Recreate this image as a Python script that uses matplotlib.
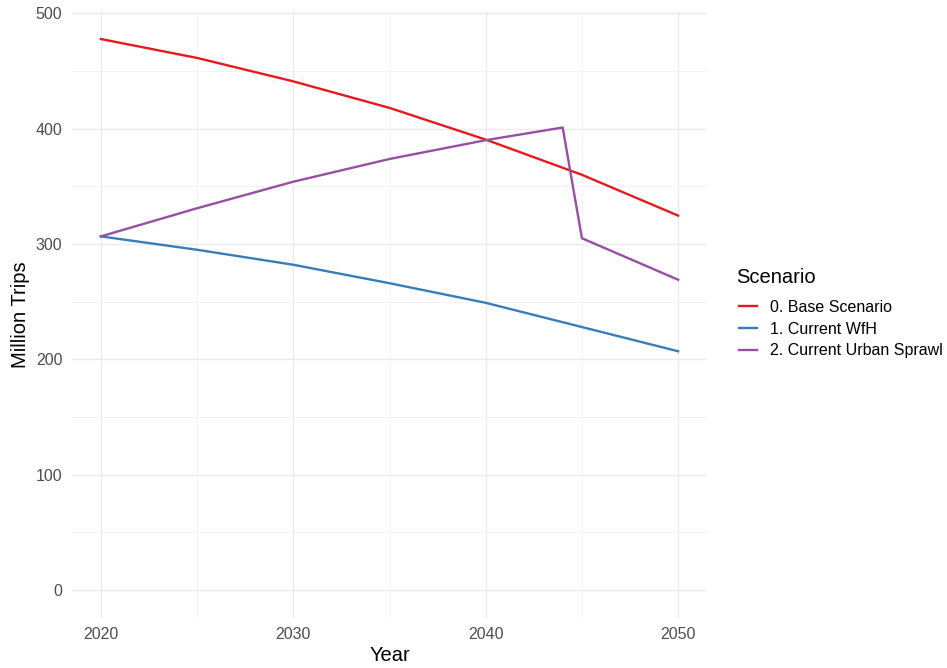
import matplotlib.pyplot as plt
import numpy as np

plt.rcParams['font.family'] = ['Liberation Sans', 'DejaVu Sans']

# data
base_years = [2020, 2025, 2030, 2035, 2040, 2045, 2050]
base_trips = [477.7, 461.3, 441.0, 418.0, 390.5, 360.0, 324.6]

wfh_years = [2020, 2025, 2030, 2035, 2040, 2045, 2050]
wfh_trips = [306.6, 295.0, 282.0, 266.0, 249.0, 228.0, 207.0]

sprawl_years = [2020, 2025, 2030, 2035, 2040, 2044, 2045, 2050]
sprawl_trips = [306.6, 331.0, 354.0, 373.7, 390.0, 401.0, 305.0, 269.0]

labels = ['0. Base Scenario', '1. Current WfH', '2. Current Urban Sprawl']
colors = ['#E41A1C', '#377EB8', '#984EA3']

W, H = 947, 668
fig = plt.figure(figsize=(W / 100, H / 100), dpi=100)
ax = fig.add_axes([72 / W, 1 - 617.6 / H, 635 / W, (617.6 - 11) / H])

series = [(base_years, base_trips), (wfh_years, wfh_trips), (sprawl_years, sprawl_trips)]
for (x, y), lab, c in zip(series, labels, colors):
    ax.plot(x, y, color=c, lw=1.7, label=lab, solid_joinstyle='round')

ax.set_xlim(2018.5, 2051.5)
ax.set_ylim(-23.9, 502)
ax.set_xticks([2020, 2030, 2040, 2050])
ax.set_xticks([2025, 2035, 2045], minor=True)
ax.set_yticks([0, 100, 200, 300, 400, 500])
ax.set_yticks([50, 150, 250, 350, 450], minor=True)

ax.grid(True, which='major', color='#EBEBEB', lw=1.0)
ax.grid(True, which='minor', color='#F3F3F3', lw=0.7)
ax.set_axisbelow(True)
for s in ax.spines.values():
    s.set_visible(False)
ax.tick_params(which='both', length=0, labelsize=11.5, labelcolor='#4D4D4D')
ax.tick_params(axis='x', pad=7)
ax.tick_params(axis='y', pad=7)

ax.set_xlabel('Year', fontsize=14.5, labelpad=3)
ax.set_ylabel('Million Trips', fontsize=14.5, labelpad=4)

# legend title drawn separately so the gap to the keys can match
fig.text(736 / W, 1 - 283 / H, 'Scenario', fontsize=14.5, ha='left', va='baseline')
ax.legend(loc='center left',
          bbox_to_anchor=(739 / W, 1 - 329 / H), bbox_transform=fig.transFigure,
          frameon=False, fontsize=11.5, borderpad=0, borderaxespad=0,
          handlelength=1.1, handletextpad=0.85, labelspacing=0.43)

fig.savefig('out.png', dpi=100)
